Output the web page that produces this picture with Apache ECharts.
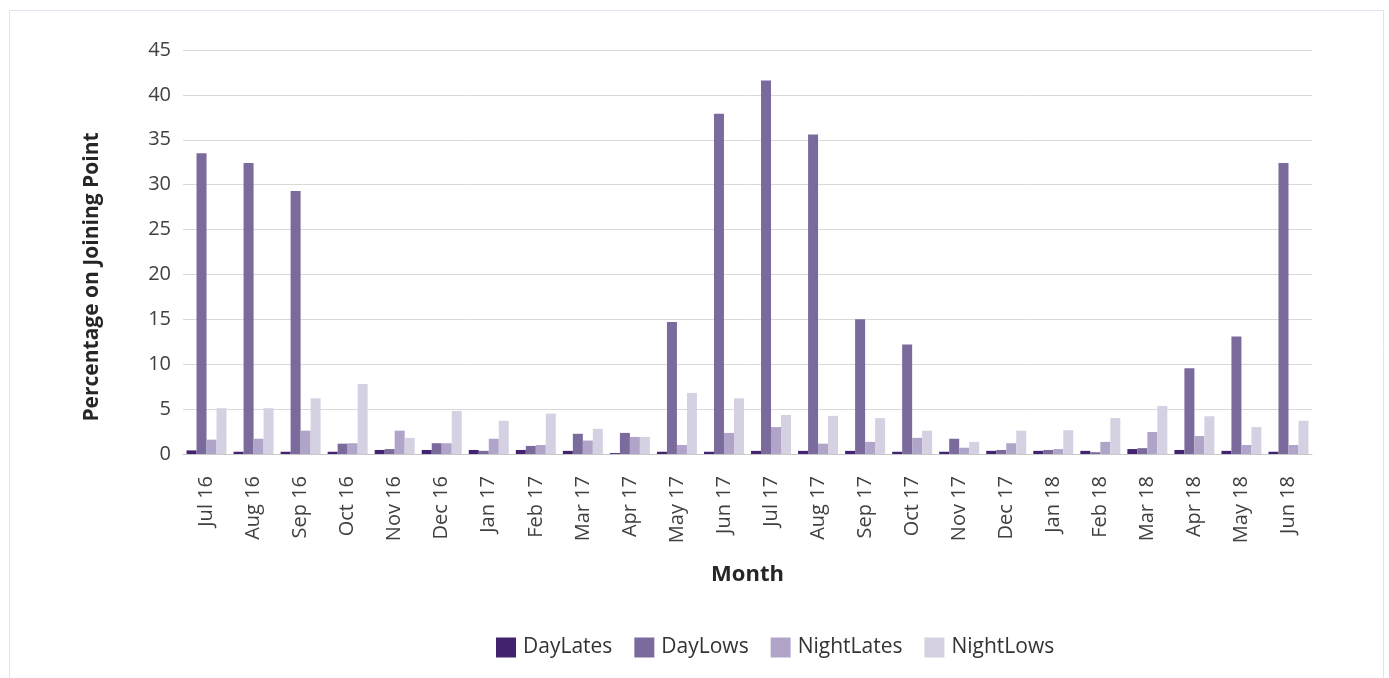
<!DOCTYPE html>
<html>
<head>
<meta charset="utf-8">
<script src="https://cdn.jsdelivr.net/npm/echarts@6/dist/echarts.min.js"></script>
<style>
  html, body { margin: 0; padding: 0; background: #fff; }
  #main { width: 1389px; height: 678px; }
</style>
</head>
<body>
<div id="main"></div>
<script>
// months on the x axis
var months = ['Jul 16', 'Aug 16', 'Sep 16', 'Oct 16', 'Nov 16', 'Dec 16', 'Jan 17', 'Feb 17',
  'Mar 17', 'Apr 17', 'May 17', 'Jun 17', 'Jul 17', 'Aug 17', 'Sep 17', 'Oct 17', 'Nov 17',
  'Dec 17', 'Jan 18', 'Feb 18', 'Mar 18', 'Apr 18', 'May 18', 'Jun 18'];

// values (percentage)
var dayLates = [0.4, 0.25, 0.25, 0.25, 0.45, 0.45, 0.45, 0.45, 0.35, 0.1, 0.25, 0.25,
  0.35, 0.35, 0.35, 0.25, 0.25, 0.35, 0.35, 0.35, 0.55, 0.45, 0.35, 0.25];
var dayLows = [33.5, 32.4, 29.3, 1.15, 0.55, 1.2, 0.35, 0.9, 2.25, 2.35, 14.7, 37.9,
  41.6, 35.6, 15.0, 12.2, 1.7, 0.45, 0.45, 0.2, 0.65, 9.55, 13.1, 32.4];
var nightLates = [1.6, 1.7, 2.6, 1.2, 2.6, 1.2, 1.7, 1.0, 1.5, 1.9, 1.0, 2.35,
  3.0, 1.15, 1.35, 1.8, 0.7, 1.2, 0.55, 1.35, 2.45, 2.0, 1.0, 1.0];
var nightLows = [5.1, 5.1, 6.2, 7.8, 1.8, 4.8, 3.7, 4.5, 2.8, 1.9, 6.8, 6.2,
  4.35, 4.25, 4.0, 2.6, 1.35, 2.6, 2.65, 4.0, 5.35, 4.2, 3.0, 3.7];

var seriesNames = ['DayLates', 'DayLows', 'NightLates', 'NightLows'];
var colors = ['#43226f', '#7b6a9c', '#b0a5c8', '#d5d1e3'];

var FONT = '"Open Sans", "Noto Sans", sans-serif';

var chart = echarts.init(document.getElementById('main'));

function bar(name, data) {
  return {
    name: name,
    type: 'bar',
    data: data,
    barGap: '0%',
    barCategoryGap: '15%'
  };
}

chart.setOption({
  color: colors,
  animation: false,
  textStyle: { fontFamily: FONT },
  graphic: [
    {
      type: 'rect',
      shape: { x: 9.5, y: 10.5, width: 1374, height: 720 },
      style: { fill: 'none', stroke: '#e3e1f1', lineWidth: 1 },
      silent: true
    },
    {
      // y axis title sits a bit below the axis centre in the reference
      type: 'text',
      x: 92,
      y: 277,
      rotation: Math.PI / 2,
      style: {
        text: 'Percentage on Joining Point',
        fontFamily: FONT,
        fontSize: 21,
        fontWeight: 'bold',
        fill: '#262626',
        align: 'center',
        verticalAlign: 'middle'
      }
    }
  ],
  grid: {
    left: 183,
    right: 77,
    top: 50,
    bottom: 224,
    containLabel: false
  },
  legend: {
    data: seriesNames,
    left: 491,
    top: 632,
    icon: 'rect',
    itemWidth: 20,
    itemHeight: 20,
    itemGap: 22,
    textStyle: { fontSize: 21, color: '#333333', fontFamily: FONT, padding: [0, 0, 0, 2] }
  },
  xAxis: {
    type: 'category',
    data: months,
    name: 'Month',
    nameLocation: 'middle',
    nameGap: 110,
    nameTextStyle: { fontSize: 22, fontWeight: 'bold', color: '#262626', fontFamily: FONT },
    axisLine: { lineStyle: { color: '#c8c8c8', width: 1 } },
    axisTick: { show: false },
    axisLabel: {
      rotate: 90,
      margin: 22,
      interval: 0,
      fontSize: 20,
      color: '#404040',
      fontFamily: FONT
    }
  },
  yAxis: {
    type: 'value',
    min: 0,
    max: 45,
    interval: 5,
    axisLine: { show: false },
    axisTick: { show: false },
    axisLabel: { fontSize: 20, color: '#404040', margin: 12, fontFamily: FONT },
    splitLine: { lineStyle: { color: '#d9d9d9', width: 1 } }
  },
  series: [
    bar('DayLates', dayLates),
    bar('DayLows', dayLows),
    bar('NightLates', nightLates),
    bar('NightLows', nightLows)
  ]
});
</script>
</body>
</html>
